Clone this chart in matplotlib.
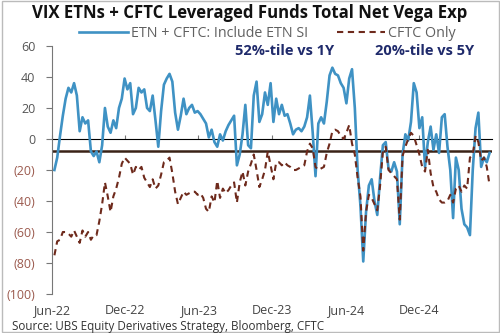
import matplotlib
matplotlib.use("Agg")
import matplotlib.pyplot as plt
import matplotlib.dates as mdates
import numpy as np
import pandas as pd

plt.rcParams['font.family'] = ['Open Sans', 'DejaVu Sans']

# weekly observations, Jun-22 to May-25
dates = pd.date_range("2022-06-07", periods=156, freq="7D")

# ETN + CFTC: Include ETN SI
etn_cftc = [
    -20, -12, 2, 15, 26, 33, 30, 36, 28, 5,
    14, 10, 12, -8, -11, -8, -15, -4, 20, 8,
    4, 12, 7, 20, 26, 39, 32, 36, 16, 20,
    33, 30, 32, 20, 18, 28, 12, -5, 18, 35,
    39, 42, 37, 17, 6, 15, 26, 16, 20, 22,
    17, 18, 16, 13, 10, 1, 6, -2, -5, 3,
    -1, 5, 9, 12, 15, -17, -10, 3, 22, -4,
    -6, 28, 37, 11, 16, 30, 22, 36, 11, 26,
    16, 22, 15, 16, 10, 3, 6, 7, 5, 8,
    14, 28, 4, -24, 10, 14, 10, 24, 41, 46,
    42, 41, 36, 33, 23, 39, 45, 20, -20, -43,
    -79, -47, -30, -26, -40, -49, -25, -4, -2, -19,
    -21, -15, -21, -55, -10, 3, -1, 11, 36, 30,
    7, 14, -18, -2, 8, -7, 3, -9, 14, 16,
    -5, -20, -51, -12, -20, -45, -55, -57, -62, -20,
    7, 17, -18, -12, -15, -9,
]

# CFTC Only
cftc_only = [
    -75, -66, -65, -60, -60, -61, -63, -59, -63, -67,
    -59, -63, -60, -65, -62, -62, -53, -42, -28, -37,
    -47, -37, -32, -25, -16, -12, -14, -16, -23, -18,
    -20, -18, -25, -28, -31, -26, -32, -30, -23, -15,
    -14, -12, -22, -34, -42, -38, -34, -36, -35, -34,
    -34, -36, -35, -38, -45, -47, -37, -41, -27, -38,
    -32, -35, -33, -30, -28, -41, -28, -21, -30, -21,
    -16, -10, -20, -31, -26, -20, -8, -17, -26, -15,
    -15, -17, -15, -17, -18, -20, -20, -19, -18, -17,
    -8, -3, -6, -18, -20, -19, -18, -9, -3, 5,
    6, 5, 2, 0, 4, 9, -3, -10, -25, -37,
    -72, -47, -36, -38, -42, -46, -30, -8, -5, -20,
    -22, -24, -26, -52, -11, -5, 0, 4, 2, -4,
    -10, -18, -21, -7, -22, -31, -34, -39, -41, -41,
    -40, -36, -41, -32, -30, -34, -30, -32, -12, -10,
    2, -2, -14, -12, -18, -30,
]

ref_level = -8
y_ticks = [60, 40, 20, 0, -20, -40, -60, -80, -100]
x_ticks = pd.to_datetime(["2022-06-01", "2022-12-01", "2023-06-01",
                          "2023-12-01", "2024-06-01", "2024-12-01"])

fig = plt.figure(figsize=(5, 3.33), dpi=100)
ax = fig.add_axes([0.104, 0.117, 0.88, 0.745])

ax.plot(dates, etn_cftc, color="#3f92c4", lw=1.9, label="ETN + CFTC: Include ETN SI")
ax.plot(dates, cftc_only, color="#6e2a1c", lw=1.5, dashes=(3, 2.2), label="CFTC Only")
ax.axhline(ref_level, color="#3a2216", lw=1.8, zorder=1)

ax.set_ylim(-100, 60)
ax.set_xlim(dates[0] - pd.Timedelta(days=1), dates[-1] + pd.Timedelta(days=6))

ax.set_yticks(y_ticks)
ax.set_yticklabels([f"({-v})" if v < 0 else str(v) for v in y_ticks])
for lab, v in zip(ax.get_yticklabels(), y_ticks):
    lab.set_color("#9b5a4e" if v < 0 else "#555555")
ax.tick_params(axis="y", labelsize=9, length=4, color="#777777", pad=8)

ax.set_xticks(x_ticks)
ax.xaxis.set_major_formatter(mdates.DateFormatter("%b-%y"))
ax.tick_params(axis="x", labelsize=9, length=0, labelcolor="#444444", pad=7)

for s in ["top", "right", "bottom"]:
    ax.spines[s].set_visible(False)
ax.spines["left"].set_color("#777777")
ax.spines["left"].set_linewidth(0.8)

# zero line with the date ticks on it
zero_pos = (0 - (-100)) / (60 - (-100))
sec = ax.secondary_xaxis(zero_pos)
sec.set_xticks(x_ticks)
sec.tick_params(axis="x", length=3, direction="out", color="#777777", labelbottom=False, labeltop=False)
sec.spines["bottom"].set_color("#888888")
sec.spines["bottom"].set_linewidth(0.8)
sec.set_xticklabels([])

fig.text(0.5, 0.962, "VIX ETNs + CFTC Leveraged Funds Total Net Vega Exp",
         ha="center", va="center", fontsize=12.1, fontweight="bold", color="#111111")
ax.legend(loc="center", bbox_to_anchor=(0.49, 1.052), ncol=2, frameon=False,
          fontsize=10.3, labelcolor="#606060", handlelength=3.4, columnspacing=2.0,
          handletextpad=0.2, borderpad=0)
fig.text(0.57, 0.847, "52%-tile vs 1Y", ha="center", va="center",
         fontsize=10.5, fontweight="bold", color="#1f2a6b")
fig.text(0.85, 0.847, "20%-tile vs 5Y", ha="center", va="center",
         fontsize=10.5, fontweight="bold", color="#1f2a6b")
fig.text(0.024, 0.021, "Source: UBS Equity Derivatives Strategy, Bloomberg, CFTC",
         ha="left", va="center", fontsize=8.4, color="#333333")

fig.patches.append(plt.Rectangle((0.003, 0.003), 0.994, 0.994, transform=fig.transFigure,
                                 fill=False, edgecolor="#bbbbbb", lw=1))

fig.savefig("out.png", dpi=100)
